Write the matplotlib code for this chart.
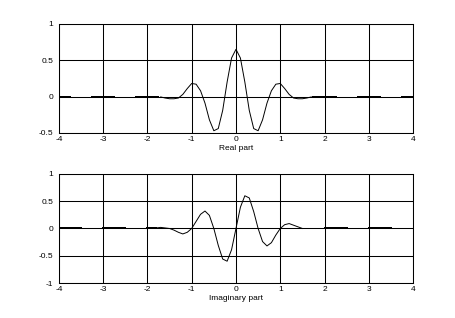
import numpy as np
import matplotlib
matplotlib.use("Agg")
import matplotlib.pyplot as plt

# Valeurs (partie réelle et imaginaire)
x_real = [-1.7, -1.6, -1.5, -1.4, -1.3, -1.2, -1.1, -1.0, -0.9, -0.8, -0.7, -0.6,
          -0.5, -0.4, -0.3, -0.2, -0.1, 0.0, 0.1, 0.2, 0.3, 0.4, 0.5, 0.6,
          0.7, 0.8, 0.9, 1.0, 1.1, 1.2, 1.3, 1.4, 1.5, 1.6, 1.7]
y_real = [-0.005, -0.02, -0.03, -0.03, -0.02, 0.03, 0.11, 0.18, 0.17, 0.08, -0.09, -0.32,
          -0.47, -0.44, -0.19, 0.20, 0.53, 0.65, 0.53, 0.20, -0.19, -0.44, -0.47, -0.32,
          -0.09, 0.08, 0.17, 0.18, 0.11, 0.03, -0.02, -0.03, -0.03, -0.02, -0.005]

x_imag = [-1.8, -1.7, -1.6, -1.5, -1.4, -1.3, -1.2, -1.1, -1.0, -0.9, -0.8, -0.7, -0.6,
          -0.5, -0.4, -0.3, -0.2, -0.1, 0.0, 0.1, 0.2, 0.3, 0.4, 0.5, 0.6,
          0.7, 0.8, 0.9, 1.0, 1.1, 1.2, 1.3, 1.4, 1.5]
y_imag = [0.01, 0.02, 0.01, 0.0, -0.03, -0.07, -0.10, -0.07, 0.0, 0.13, 0.26, 0.32, 0.24,
          0.0, -0.31, -0.56, -0.60, -0.39, 0.0, 0.39, 0.60, 0.56, 0.31, 0.0, -0.24,
          -0.32, -0.26, -0.12, 0.0, 0.07, 0.09, 0.06, 0.03, 0.0]

# Morceaux plats (quasi nuls) qui apparaissent en trait épais sur l'axe 0
flat_real = [(-4, -3.75), (-3.25, -2.75), (-2.25, -1.75), (1.75, 2.25), (2.75, 3.25), (3.75, 4)]
flat_imag = [(-4, -3.5), (-3, -2.5), (-2, -1.8), (2, 2.5), (3, 3.5)]

xticks = [-4, -3, -2, -1, 0, 1, 2, 3, 4]

plt.rcParams['font.family'] = ['Liberation Sans', 'DejaVu Sans']

fig = plt.figure(figsize=(4.56, 3.18), dpi=100)
ax1 = fig.add_axes([0.129, 0.582, 0.777, 0.343])
ax2 = fig.add_axes([0.129, 0.110, 0.777, 0.343])

panels = [
    (ax1, x_real, y_real, flat_real, [-0.5, 0, 0.5, 1], ['-0.5', '0', '0.5', '1'], (-0.5, 1), "Real part"),
    (ax2, x_imag, y_imag, flat_imag, [-1, -0.5, 0, 0.5, 1], ['-1', '-0.5', '0', '0.5', '1'], (-1, 1), "Imaginary part"),
]

for ax, xs, ys, flats, yt, ytl, ylim, lab in panels:
    ax.plot(xs, ys, color='black', lw=0.7)
    for a, b in flats:
        ax.plot([a, b], [0, 0], color='black', lw=1.2, antialiased=False)
    ax.set_xlim(-4, 4)
    ax.set_ylim(*ylim)
    ax.set_xticks(xticks)
    ax.set_xticklabels([str(t) for t in xticks])
    ax.set_yticks(yt)
    ax.set_yticklabels(ytl)
    ax.grid(True, color='black', linestyle='-', lw=0.75)
    ax.tick_params(length=0, labelsize=6, pad=2)
    ax.tick_params(axis='y', pad=4)
    for s in ax.spines.values():
        s.set_linewidth(0.75)
    ax.set_xlabel(lab, fontsize=6, labelpad=1.5)

fig.savefig("out.png", dpi=100)
